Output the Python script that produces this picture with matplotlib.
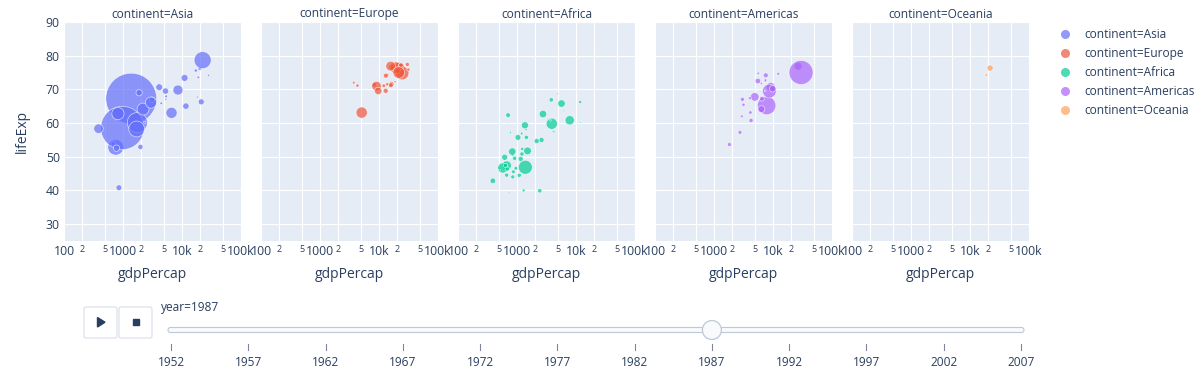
import numpy as np
import matplotlib
matplotlib.use("Agg")
import matplotlib.pyplot as plt
from matplotlib.lines import Line2D
from matplotlib.patches import FancyBboxPatch, Circle, Polygon, Rectangle

plt.rcParams['font.family'] = ['Open Sans', 'DejaVu Sans']

# gapminder, year 1987 (gdpPercap, lifeExp, pop in millions)
continents = ['Asia', 'Europe', 'Africa', 'Americas', 'Oceania']
colors = ['#636EFA', '#EF553B', '#00CC96', '#AB63FA', '#FFA15A']

asia_gdp = [852.4, 18524, 752.0, 683.9, 1378.9, 20038, 976.5, 1748.4, 6642.9, 11643.6, 17122.5,
            22375.9, 4448.7, 4106.5, 8533.1, 28118.4, 5377.1, 5249.8, 2338.0, 385.0, 775.6, 18115.2,
            1704.7, 2189.6, 21198.3, 18861.5, 1876.8, 3116.8, 11054.6, 2982.7, 820.8, 5351.9, 1971.7]
asia_life = [40.82, 70.75, 52.82, 53.91, 67.27, 76.2, 58.55, 60.14, 63.04, 65.04, 75.6,
             78.67, 65.87, 70.65, 69.81, 74.17, 67.93, 69.5, 60.22, 58.34, 52.54, 67.73,
             58.25, 64.15, 66.3, 73.56, 69.01, 66.97, 73.4, 66.08, 62.82, 67.05, 52.92]
asia_pop = [13.87, 0.455, 103.76, 8.37, 1084.04, 5.58, 788.0, 169.28, 51.89, 16.54, 4.20,
            122.09, 2.82, 19.07, 41.62, 1.89, 3.09, 16.33, 2.02, 38.03, 17.22, 1.59,
            105.19, 60.02, 14.62, 2.79, 16.50, 11.24, 19.76, 52.91, 62.83, 1.69, 11.22]

europe_gdp = [3738.9, 23687.8, 22525.6, 4314.1, 8239.9, 13822.6, 16310.4, 25116.2, 21141.0, 22066.4,
              24639.2, 16120.5, 12986.5, 26923.2, 13872.9, 19207.2, 11732.5, 23651.3, 31541.0, 9082.4,
              13039.3, 9696.3, 15870.9, 12037.3, 18678.5, 15765.0, 23586.9, 30281.7, 5089.0, 21664.8]
europe_life = [72.0, 74.94, 75.35, 71.14, 71.34, 71.52, 71.58, 74.8, 74.83, 76.34,
               74.85, 76.67, 69.58, 77.23, 74.36, 76.42, 74.87, 76.83, 75.89, 70.98,
               74.06, 69.53, 71.22, 71.08, 72.25, 76.9, 77.19, 77.41, 63.11, 75.01]
europe_pop = [3.08, 7.58, 9.87, 4.34, 8.97, 4.48, 10.31, 5.13, 4.93, 55.63,
              77.72, 9.97, 10.61, 0.24, 3.53, 56.73, 0.57, 14.67, 4.19, 37.74,
              9.92, 22.69, 9.23, 5.20, 1.95, 38.88, 8.42, 6.65, 52.88, 56.98]

africa_gdp = [5681.4, 2430.2, 1225.9, 6205.9, 912.1, 621.8, 2602.7, 844.9, 952.4, 1316.0,
              672.8, 4201.2, 2157.0, 2880.1, 3885.5, 690.8, 521.1, 573.7, 11864.4, 611.7,
              1038.4, 869.4, 736.4, 1361.9, 774.0, 506.1, 11770.6, 1155.4, 635.5, 684.2,
              1421.6, 4864.3, 2755.0, 389.9, 3693.7, 668.3, 1385.0, 5303.4, 848.0, 1516.5,
              1441.7, 1294.4, 1093.2, 7825.8, 1507.8, 3984.8, 831.8, 1202.2, 3810.0, 617.7,
              1213.3, 706.2]
africa_life = [65.8, 39.91, 52.34, 63.62, 49.56, 48.21, 54.99, 50.49, 46.58, 54.93,
               47.41, 57.47, 54.66, 50.04, 59.8, 45.66, 46.45, 46.68, 60.19, 49.27,
               55.73, 45.55, 39.33, 59.34, 57.18, 46.03, 66.23, 49.35, 47.46, 46.36,
               58.04, 68.74, 62.68, 42.86, 60.84, 44.56, 46.89, 71.91, 44.02, 61.73,
               55.77, 40.01, 44.5, 60.83, 51.74, 57.68, 51.54, 56.91, 66.89, 49.85,
               50.82, 62.35]
africa_pop = [23.25, 7.87, 4.24, 1.15, 7.59, 5.13, 10.78, 2.84, 5.35, 0.40,
              35.48, 2.06, 10.76, 0.31, 52.80, 0.34, 2.92, 43.0, 0.88, 0.85,
              14.17, 5.65, 0.93, 21.20, 1.60, 1.91, 3.80, 10.57, 7.82, 7.63,
              1.84, 1.04, 22.99, 12.89, 1.28, 6.92, 81.55, 0.56, 6.35, 0.11,
              7.17, 3.87, 6.92, 35.93, 24.73, 0.78, 23.04, 3.15, 7.72, 15.28,
              7.27, 9.22]

americas_gdp = [9139.7, 2753.7, 7807.1, 26626.5, 5547.1, 4903.2, 5629.9, 7532.9, 3025.3, 6481.8,
                4140.4, 4246.5, 1823.0, 3158.4, 6351.2, 8688.2, 2956.0, 7406.4, 4076.0, 6360.9,
                12281.3, 7388.6, 29884.4, 7452.4, 9883.6]
americas_life = [70.77, 57.25, 65.21, 76.86, 72.49, 67.77, 74.75, 74.17, 67.05, 67.23,
                 63.15, 60.78, 53.64, 65.45, 71.77, 69.5, 62.01, 72.46, 67.38, 64.13,
                 74.63, 69.58, 75.02, 72.75, 70.19]
americas_pop = [31.62, 6.16, 142.94, 26.55, 12.46, 30.96, 2.80, 10.24, 6.66, 9.55,
                4.84, 7.33, 6.33, 4.37, 2.33, 80.12, 3.30, 2.25, 3.89, 20.20,
                3.44, 1.19, 242.80, 3.05, 17.91]

oceania_gdp = [21888.9, 19007.2]
oceania_life = [76.32, 74.32]
oceania_pop = [16.26, 3.32]

years = [1952, 1957, 1962, 1967, 1972, 1977, 1982, 1987, 1992, 1997, 2002, 2007]
current_year = 1987

x_ticks = [100, 200, 500, 1000, 2000, 5000, 10000, 20000, 50000, 100000]
x_labels = ['100', '2', '5', '1000', '2', '5', '10k', '2', '5', '100k']
y_ticks = [30, 40, 50, 60, 70, 80, 90]

series = [(asia_gdp, asia_life, asia_pop), (europe_gdp, europe_life, europe_pop),
          (africa_gdp, africa_life, africa_pop), (americas_gdp, americas_life, americas_pop),
          (oceania_gdp, oceania_life, oceania_pop)]

W, H = 1200, 370
TXT = '#2a3f5f'
POP_MAX = 1318.7   # largest pop over all frames (millions)
DIAM_MAX = 56.0    # bubble diameter in px for POP_MAX


def fx(px):
    return px / W


def fy(py):
    return 1 - py / H


def bubble_area(pop):
    d_px = DIAM_MAX * np.sqrt(np.asarray(pop) / POP_MAX)
    return (d_px * 72 / 100) ** 2


fig = plt.figure(figsize=(12, 3.7), dpi=100)

panel_left = [64, 261, 458, 655, 852]
panel_w, panel_top, panel_bot = 177, 22, 241

for i, (name, col, (gdp, life, pop)) in enumerate(zip(continents, colors, series)):
    ax = fig.add_axes([fx(panel_left[i]), fy(panel_bot), fx(panel_w), (panel_bot - panel_top) / H])
    ax.set_facecolor('#E5ECF6')
    for s in ax.spines.values():
        s.set_visible(False)
    ax.set_xscale('log')
    ax.set_xlim(100, 100000)
    ax.set_ylim(25, 90)
    ax.set_xticks(x_ticks, x_labels)
    ax.minorticks_off()
    ax.set_yticks(y_ticks)
    ax.grid(True, color='white', linewidth=0.8)
    ax.set_axisbelow(True)
    ax.tick_params(length=0, pad=3, labelsize=8.8, colors=TXT)
    for lab in ax.get_xticklabels():
        if lab.get_text() in ('2', '5'):
            lab.set_fontsize(6.5)
    if i > 0:
        ax.tick_params(labelleft=False)
    ax.scatter(gdp, life, s=bubble_area(pop), color=col, alpha=0.7,
               edgecolors='white', linewidths=0.5, zorder=3)
    cx = panel_left[i] + panel_w / 2
    fig.text(fx(cx), fy(14), 'continent=' + name, ha='center', va='center', fontsize=8.6, color=TXT)
    fig.text(fx(cx), fy(275), 'gdpPercap', ha='center', va='center', fontsize=10, color=TXT)

fig.text(fx(22), fy((panel_top + panel_bot) / 2), 'lifeExp', rotation=90, ha='center', va='center',
         fontsize=10, color=TXT)

handles = [Line2D([], [], marker='o', ls='', color=c, alpha=0.7, markersize=6.5, markeredgewidth=0)
           for c in colors]
fig.legend(handles, ['continent=' + c for c in continents], loc='upper left',
           bbox_to_anchor=(fx(1059), fy(28)), frameon=False, fontsize=8.6, labelcolor=TXT,
           handlelength=1.0, handletextpad=1.1, labelspacing=0.5, borderpad=0, borderaxespad=0)

# animation controls
ui = fig.add_axes([0, 0, 1, 1])
ui.set_xlim(0, W)
ui.set_ylim(H, 0)
ui.axis('off')

for bx in (84, 119):
    ui.add_patch(FancyBboxPatch((bx, 307), 33, 31, boxstyle='round,pad=0,rounding_size=2',
                                facecolor='white', edgecolor='#d8dde8', linewidth=0.8))
ui.add_patch(Polygon([(97.5, 317.5), (97.5, 327), (105, 322.2)], closed=True, color=TXT))
ui.add_patch(Rectangle((132.5, 319), 6, 6, color=TXT))

ui.text(161, 308, f'year={current_year}', ha='left', va='center', fontsize=8.6, color=TXT)

x0, x1 = 171, 1021
ui.add_patch(FancyBboxPatch((x0 - 3, 327.5), x1 - x0 + 6, 5, boxstyle='round,pad=0,rounding_size=2.5',
                            facecolor='#f8fafc', edgecolor='#bec8d9', linewidth=0.8))
step = (x1 - x0) / (len(years) - 1)
for k, yr in enumerate(years):
    tx = x0 + k * step
    ui.plot([tx, tx], [344, 350], color='#7f8797', linewidth=0.8)
    ui.text(tx, 362, str(yr), ha='center', va='center', fontsize=8.6, color=TXT)
hx = x0 + years.index(current_year) * step
ui.add_patch(Circle((hx, 330), 9.5, facecolor='#f8fafc', edgecolor='#bec8d9', linewidth=0.9, zorder=5))

fig.savefig('out.png', dpi=100)
